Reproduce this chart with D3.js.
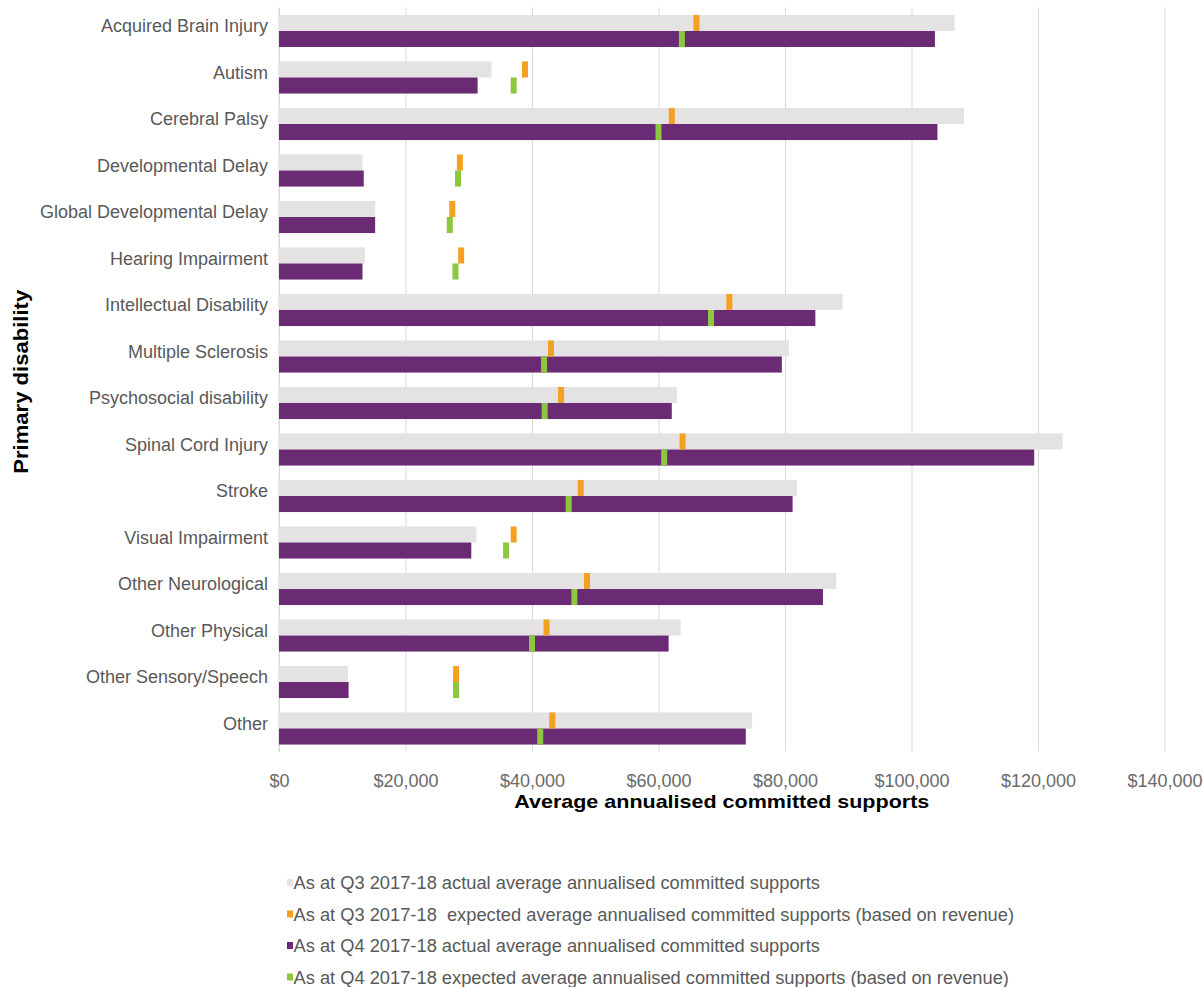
<!DOCTYPE html>
<html>
<head>
<meta charset="utf-8">
<script src="https://cdn.jsdelivr.net/npm/d3@7"></script>
<style>
  html, body { margin: 0; padding: 0; background: #fff; }
  svg { display: block; font-family: "Liberation Sans", Arial, sans-serif; }
</style>
</head>
<body>
<svg id="chart" width="1204" height="987"></svg>
<script>
const categories = [
  "Acquired Brain Injury", "Autism", "Cerebral Palsy", "Developmental Delay",
  "Global Developmental Delay", "Hearing Impairment", "Intellectual Disability",
  "Multiple Sclerosis", "Psychosocial disability", "Spinal Cord Injury", "Stroke",
  "Visual Impairment", "Other Neurological", "Other Physical", "Other Sensory/Speech", "Other"
];
const q3Actual   = [106800, 33600, 108300, 13200, 15200, 13600, 89100, 80600, 62900, 123900, 81900, 31200, 88100, 63500, 10900, 74800];
const q3Expected = [66000, 38900, 62100, 28600, 27400, 28800, 71200, 43000, 44600, 63800, 47700, 37100, 48700, 42300, 28000, 43200];
const q4Actual   = [103700, 31400, 104100, 13400, 15200, 13200, 84800, 79500, 62100, 119400, 81200, 30400, 86000, 61600, 11000, 73800];
const q4Expected = [63700, 37100, 60000, 28300, 27000, 27900, 68300, 41900, 42000, 60900, 45800, 35900, 46700, 40000, 28000, 41300];
const xTicks = [0, 20000, 40000, 60000, 80000, 100000, 120000, 140000];
const legendLabels = [
  "As at Q3 2017-18 actual average annualised committed supports",
  "As at Q3 2017-18  expected average annualised committed supports (based on revenue)",
  "As at Q4 2017-18 actual average annualised committed supports",
  "As at Q4 2017-18 expected average annualised committed supports (based on revenue)"
];
const colors = ["#e4e2e3", "#f4a021", "#6b2a74", "#8dc63f"];

(function () {
const svg = d3.select("#chart");
const pLeft = 279, pRight = 1164.5, pTop = 7.75, pBottom = 751.75;

const x = d3.scaleLinear().domain([0, 140000]).range([pLeft, pRight]);
const y = d3.scaleBand().domain(categories).range([pTop, pBottom])
  .paddingInner(0.31).paddingOuter(0.155);
const bw = y.bandwidth();
const half = bw / 2;

// gridlines
svg.append("g")
  .attr("transform", `translate(0,${pBottom})`)
  .call(d3.axisBottom(x).tickValues(xTicks).tickSize(-(pBottom - pTop)).tickFormat(""))
  .call(g => g.select(".domain").remove())
  .call(g => g.selectAll("line").attr("stroke", "#d9d9d9").attr("stroke-width", 1));

// left axis line
svg.append("line")
  .attr("x1", x(0)).attr("x2", x(0)).attr("y1", pTop).attr("y2", pBottom)
  .attr("stroke", "#d9d9d9").attr("stroke-width", 1);

const rows = categories.map((c, i) => ({
  c, q3a: q3Actual[i], q3e: q3Expected[i], q4a: q4Actual[i], q4e: q4Expected[i]
}));

// Q3 actual bars (grey)
svg.append("g").selectAll("rect").data(rows).join("rect")
  .attr("x", x(0)).attr("y", d => y(d.c))
  .attr("width", d => x(d.q3a) - x(0)).attr("height", half)
  .attr("fill", colors[0]);

// Q4 actual bars (purple)
svg.append("g").selectAll("rect").data(rows).join("rect")
  .attr("x", x(0)).attr("y", d => y(d.c) + half)
  .attr("width", d => x(d.q4a) - x(0)).attr("height", half)
  .attr("fill", colors[2]);

const mw = 6;
// Q3 expected markers (orange)
svg.append("g").selectAll("rect").data(rows).join("rect")
  .attr("x", d => x(d.q3e) - mw / 2).attr("y", d => y(d.c))
  .attr("width", mw).attr("height", half)
  .attr("fill", colors[1]);

// Q4 expected markers (green)
svg.append("g").selectAll("rect").data(rows).join("rect")
  .attr("x", d => x(d.q4e) - mw / 2).attr("y", d => y(d.c) + half)
  .attr("width", mw).attr("height", half)
  .attr("fill", colors[3]);

// y axis labels
svg.append("g")
  .attr("transform", `translate(${pLeft},0)`)
  .call(d3.axisLeft(y).tickSize(0).tickPadding(11))
  .call(g => g.select(".domain").remove())
  .call(g => g.selectAll("text")
    .attr("dy", null).attr("y", 1)
    .attr("font-family", "'Liberation Sans', Arial, sans-serif")
    .attr("font-size", 18).attr("fill", "#595959"));

// x axis labels
svg.append("g")
  .attr("transform", `translate(0,${pBottom})`)
  .call(d3.axisBottom(x).tickValues(xTicks).tickSize(0)
    .tickFormat(d => "$" + d3.format(",")(d)))
  .call(g => g.select(".domain").remove())
  .call(g => g.selectAll("text")
    .attr("dy", null).attr("y", 787 - pBottom)
    .attr("font-family", "'Liberation Sans', Arial, sans-serif")
    .attr("font-size", 18).attr("fill", "#6a6a6a"));

// axis titles
svg.append("text")
  .attr("x", (pLeft + pRight) / 2).attr("y", 808)
  .attr("text-anchor", "middle")
  .attr("font-size", 19).attr("font-weight", "bold").attr("fill", "#000")
  .attr("textLength", 415).attr("lengthAdjust", "spacingAndGlyphs")
  .text("Average annualised committed supports");

svg.append("text")
  .attr("transform", `translate(28,${(pTop + pBottom) / 2 + 2}) rotate(-90)`)
  .attr("text-anchor", "middle")
  .attr("font-size", 20).attr("font-weight", "bold").attr("fill", "#000")
  .attr("textLength", 184).attr("lengthAdjust", "spacingAndGlyphs")
  .text("Primary disability");

// legend
const lg = svg.append("g");
legendLabels.forEach((t, i) => {
  const by = 889 + i * 31.5;
  lg.append("rect").attr("x", 287).attr("y", by - 10).attr("width", 6).attr("height", 7)
    .attr("fill", colors[i]);
  lg.append("text").attr("x", 293.5).attr("y", by)
    .attr("font-size", 18.3).attr("fill", "#595959")
    .style("white-space", "pre")
    .text(t);
});
})();
</script>
</body>
</html>
